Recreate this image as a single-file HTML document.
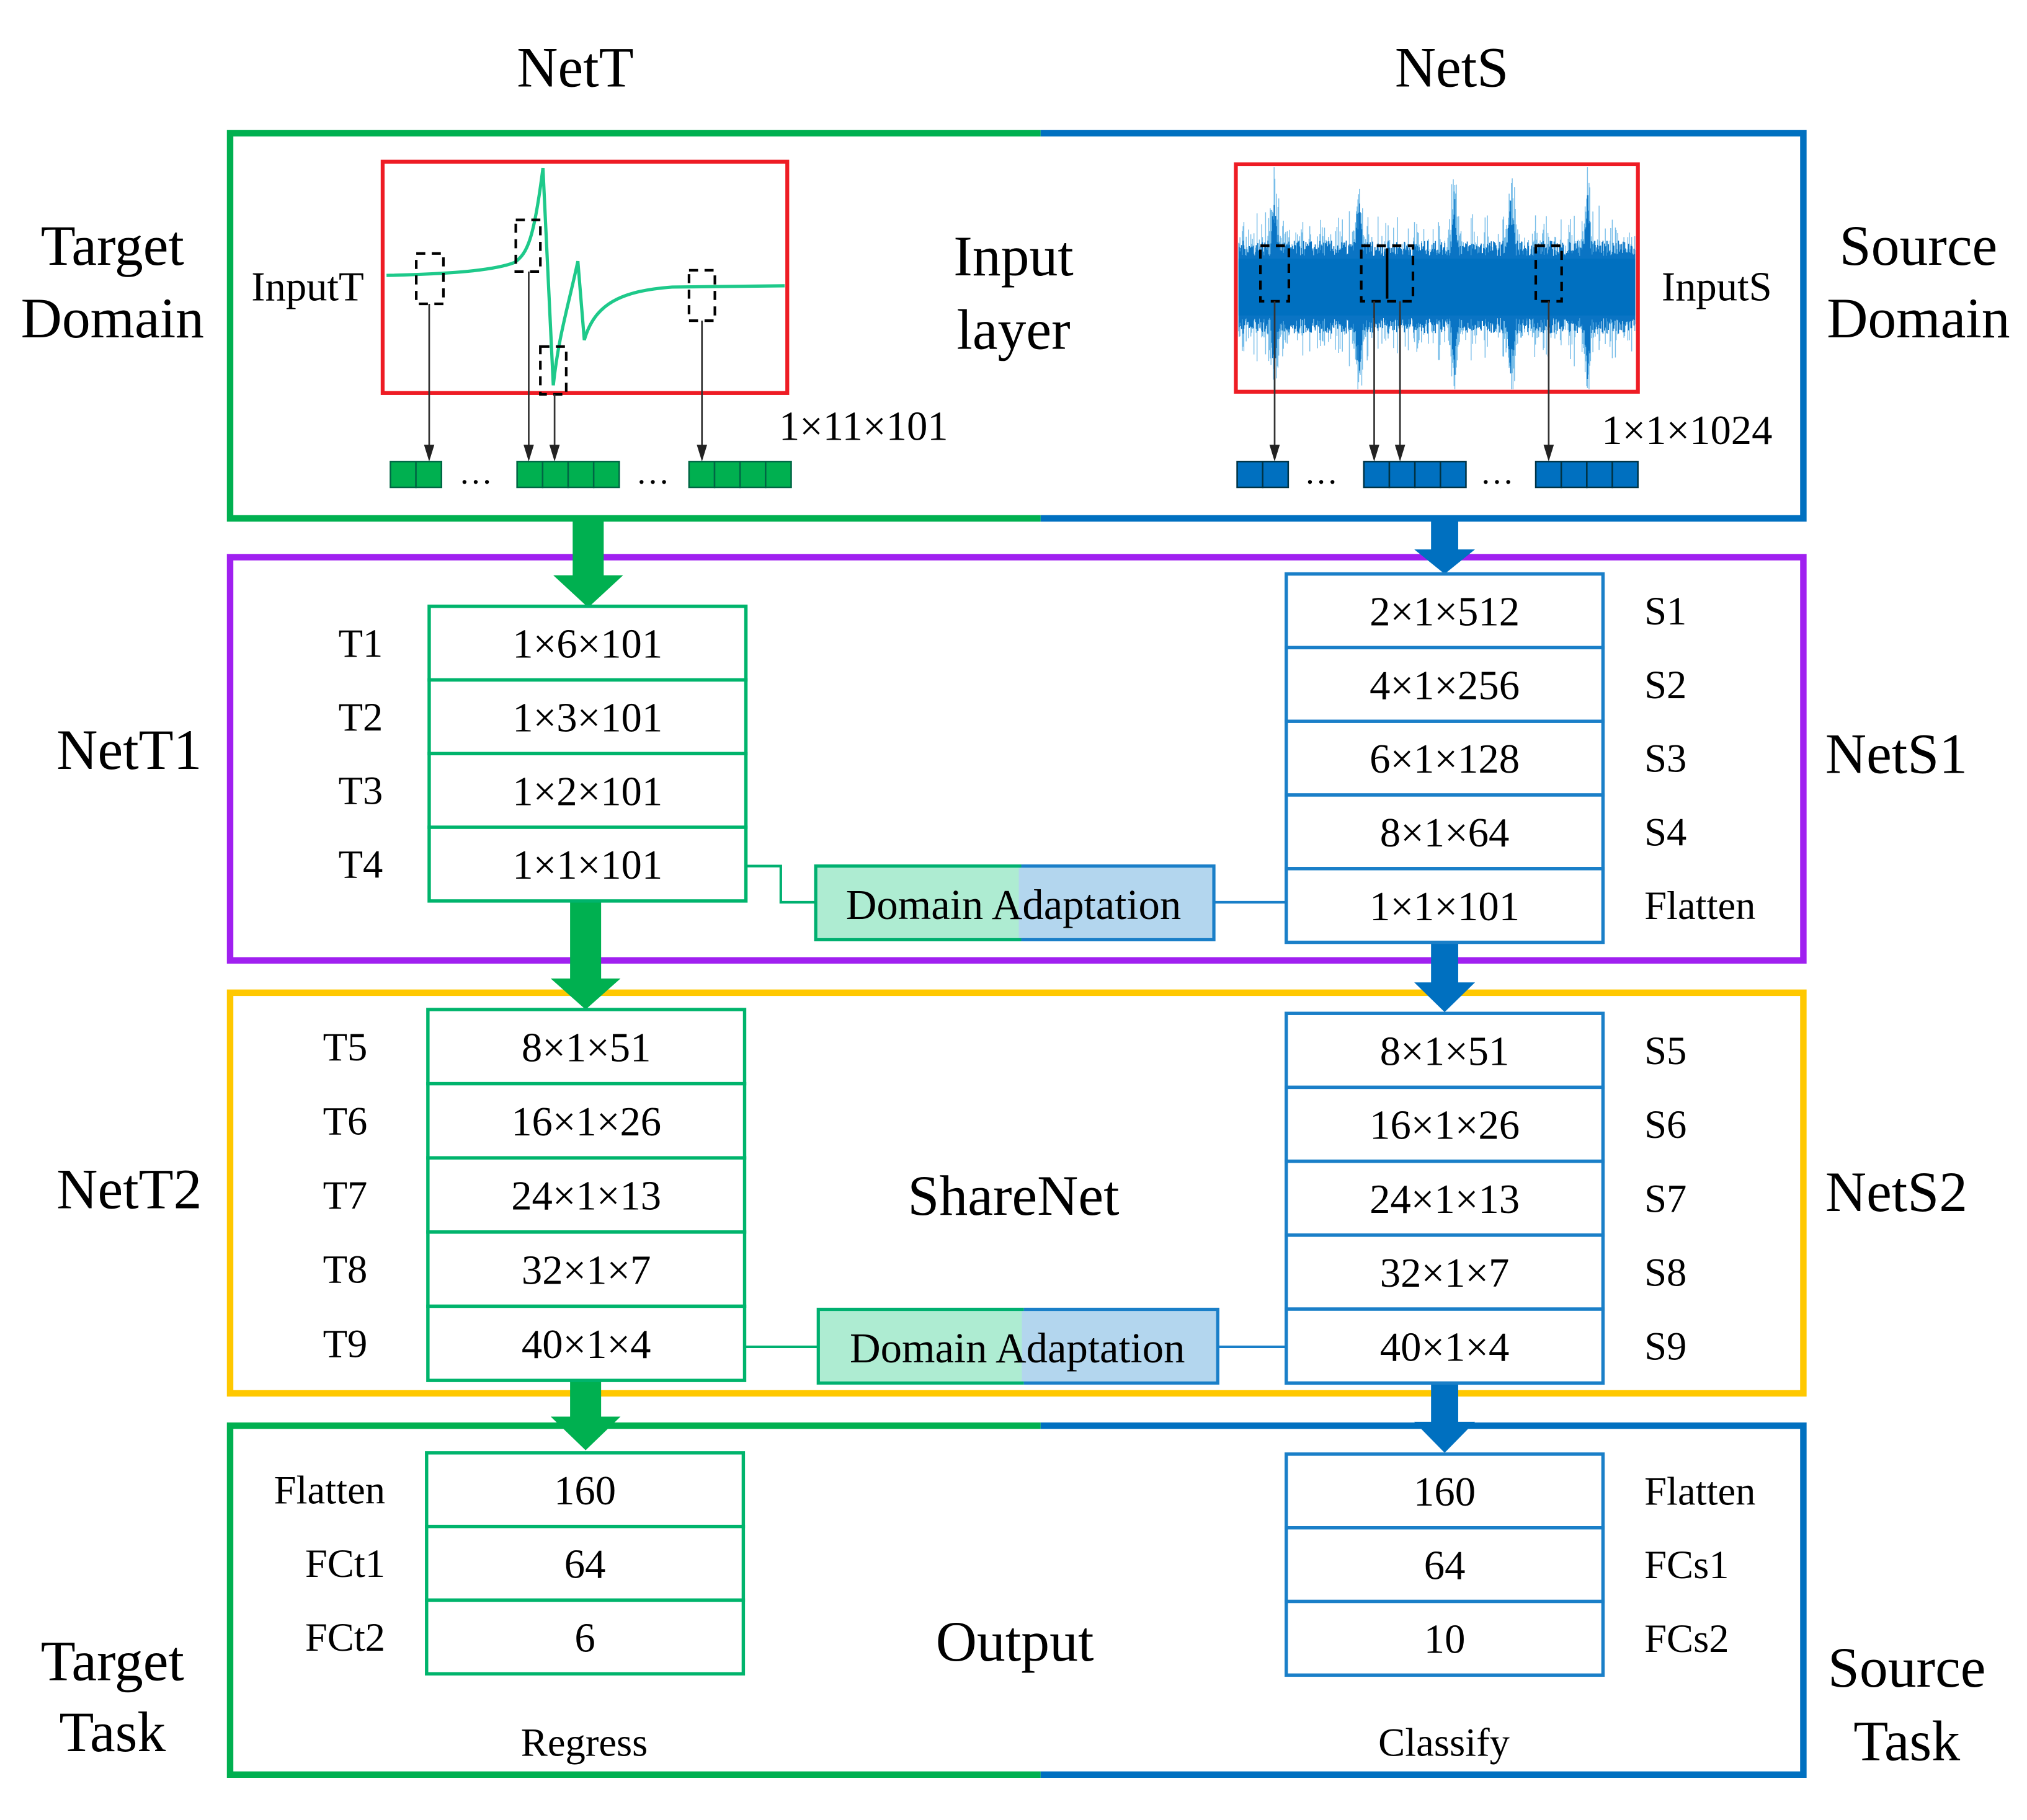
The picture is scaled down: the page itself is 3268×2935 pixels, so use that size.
<!DOCTYPE html>
<html><head><meta charset="utf-8"><style>
html,body{margin:0;padding:0;background:#fff;width:3268px;height:2935px;overflow:hidden}
svg{display:block}
text{font-family:"Liberation Serif",serif;fill:#000}
</style></head><body>
<svg id="s" width="3268" height="2935" viewBox="0 0 1568 1408" xmlns="http://www.w3.org/2000/svg">
<defs>
<linearGradient id="da" x1="0" x2="1" y1="0" y2="0">
<stop offset="0" stop-color="#aeecd2"/><stop offset="0.51" stop-color="#aeecd2"/><stop offset="0.51" stop-color="#b3d6ee"/><stop offset="1" stop-color="#b3d6ee"/></linearGradient>
<clipPath id="cs"><rect x="958" y="129" width="307" height="172"/></clipPath>
</defs>
<g font-size="44" text-anchor="middle" dominant-baseline="central">
<text x="445" y="52">NetT</text><text x="1123" y="52">NetS</text>
<text x="87" y="190">Target</text><text x="87" y="246">Domain</text>
<text x="784" y="198">Input</text><text x="784" y="255">layer</text>
<text x="1484" y="190">Source</text><text x="1484" y="246">Domain</text>
<text x="100" y="580">NetT1</text><text x="1467" y="583">NetS1</text>
<text x="100" y="920">NetT2</text><text x="1467" y="922">NetS2</text>
<text x="784" y="925">ShareNet</text>
<text x="785" y="1270">Output</text>
<text x="87" y="1285">Target</text><text x="87" y="1340">Task</text>
<text x="1475" y="1290">Source</text><text x="1475" y="1347">Task</text>
</g>
<g fill="none" stroke-width="5">
<path d="M805 103 H178 V401 H805" stroke="#00b050"/>
<path d="M805 103 H1395 V401 H805" stroke="#0070c0"/>
<rect x="178" y="431" width="1217" height="312" stroke="#a020f0"/>
<rect x="178" y="768" width="1217" height="310" stroke="#ffc800"/>
<path d="M805 1103 H178 V1373 H805" stroke="#00b050"/>
<path d="M805 1103 H1395 V1373 H805" stroke="#0070c0"/>
</g>
<rect x="296" y="125" width="313" height="179" fill="none" stroke="#ee1c24" stroke-width="3"/>
<path d="M299 213 C340 212 380 210 398 203 C408 196 413 185 420 130 L428 298 C432 260 440 235 447 202 L452 263 C460 235 480 225 520 222 L607 221" fill="none" stroke="#1ec98a" stroke-width="2.5"/>
<g id="blue" clip-path="url(#cs)"></g>
<rect x="956" y="127" width="311" height="176" fill="none" stroke="#ee1c24" stroke-width="3"/>
<g font-size="32" text-anchor="middle" dominant-baseline="central">
<text x="238" y="222">InputT</text><text x="1328" y="222">InputS</text>
<text x="668" y="330">1×11×101</text><text x="1305" y="333">1×1×1024</text>
</g>
<g fill="none" stroke="#000" stroke-width="2" stroke-dasharray="7,5">
<rect x="322" y="196" width="21" height="39"/><rect x="399" y="170" width="19" height="40"/>
<rect x="418" y="268" width="20" height="37"/><rect x="533" y="209" width="20" height="39"/>
<rect x="975" y="190" width="22" height="43"/><rect x="1053" y="190" width="40" height="43"/>
<rect x="1188" y="190" width="20" height="43"/>
</g>
<line x1="1073" y1="192" x2="1073" y2="231" stroke="#000" stroke-width="2"/>
<g stroke="#333" stroke-width="1.3">
<line x1="332" y1="235" x2="332" y2="348"/><line x1="409" y1="210" x2="409" y2="348"/>
<line x1="429" y1="305" x2="429" y2="348"/><line x1="543" y1="248" x2="543" y2="348"/>
<line x1="986" y1="233" x2="986" y2="348"/><line x1="1063" y1="233" x2="1063" y2="348"/>
<line x1="1083" y1="233" x2="1083" y2="348"/><line x1="1198" y1="233" x2="1198" y2="348"/>
</g>
<g fill="#222">
<path d="M328 344 L336 344 L332 357Z"/><path d="M405 344 L413 344 L409 357Z"/><path d="M425 344 L433 344 L429 357Z"/><path d="M539 344 L547 344 L543 357Z"/>
<path d="M982 344 L990 344 L986 357Z"/><path d="M1059 344 L1067 344 L1063 357Z"/><path d="M1079 344 L1087 344 L1083 357Z"/><path d="M1194 344 L1202 344 L1198 357Z"/>
</g>
<g id="cells"></g>
<g font-size="26" text-anchor="middle"><text x="368" y="374">…</text><text x="505" y="374">…</text><text x="1022" y="374">…</text><text x="1158" y="374">…</text></g>
<g fill="#00b050">
<rect x="443" y="399" width="24" height="48"/><path d="M428 445 H482 L455 470Z"/>
<rect x="441" y="697" width="24" height="62"/><path d="M426 757 H480 L453 781Z"/>
<rect x="441" y="1068" width="24" height="30"/><path d="M426 1096 H480 L453 1122Z"/>
</g>
<g fill="#0070c0">
<rect x="1107" y="399" width="21" height="28"/><path d="M1094 425 H1141 L1117.5 444Z"/>
<rect x="1107" y="728" width="21" height="34"/><path d="M1094 760 H1141 L1117.5 783Z"/>
<rect x="1107" y="1070" width="21" height="32"/><path d="M1094 1100 H1141 L1117.5 1124Z"/>
</g>
<g id="stacks"></g>
<rect x="631" y="670" width="308" height="57" fill="url(#da)"/>
<path d="M790 670 H631 V727 H790" fill="none" stroke="#00b070" stroke-width="2.5"/>
<path d="M790 670 H939 V727 H790" fill="none" stroke="#1a7fc8" stroke-width="2.5"/>
<rect x="633" y="1013" width="309" height="57" fill="url(#da)"/>
<path d="M792 1013 H633 V1070 H792" fill="none" stroke="#00b070" stroke-width="2.5"/>
<path d="M792 1013 H942 V1070 H792" fill="none" stroke="#1a7fc8" stroke-width="2.5"/>
<path d="M577 670 H604 V698 H631" fill="none" stroke="#00b070" stroke-width="2"/>
<line x1="939" y1="698" x2="995" y2="698" stroke="#1a7fc8" stroke-width="2"/>
<line x1="576" y1="1042" x2="633" y2="1042" stroke="#00b070" stroke-width="2"/>
<line x1="942" y1="1042" x2="995" y2="1042" stroke="#1a7fc8" stroke-width="2"/>
<g font-size="33" text-anchor="middle" dominant-baseline="central">
<text x="784" y="700">Domain Adaptation</text><text x="787" y="1043">Domain Adaptation</text>
<text x="452" y="1348" font-size="31">Regress</text><text x="1117" y="1348" font-size="31">Classify</text>
</g>
</svg>
<script>
var NS="http://www.w3.org/2000/svg";
function el(p,t,a,txt){var e=document.createElementNS(NS,t);for(var k in a)e.setAttribute(k,a[k]);if(txt!=null)e.textContent=txt;document.getElementById(p).appendChild(e);return e;}
function cells(x,n,fill,stroke){for(var i=0;i<n;i++)el("cells","rect",{x:x+i*19.75,y:357,width:19.75,height:20,fill:fill,stroke:stroke,"stroke-width":1.2});}
cells(302,2,"#00b050","#064");cells(400,4,"#00b050","#064");cells(533,4,"#00b050","#064");
cells(957,2,"#0070c0","#034");cells(1055,4,"#0070c0","#034");cells(1188,4,"#0070c0","#034");
var seed=7;function r(){seed=(seed*16807)%2147483647;return seed/2147483647;}
var spikes=[986,1051,1125,1169,1228];
// light outer envelope
for(var x=958;x<1266;x+=0.6){
 var a=22+r()*r()*40; var sp=0;
 for(var j=0;j<spikes.length;j++){var d=Math.abs(x-spikes[j]);if(d<10)sp=Math.max(sp,(1-d/10)*(60+40*r()));}
 a=Math.max(a,sp);
 el("blue","line",{x1:x,y1:222-a*(0.8+0.3*r()),x2:x,y2:222+a*(0.8+0.3*r()),stroke:"#58aee3","stroke-width":0.7,"stroke-opacity":0.8});
}
// dense core
for(var x=958;x<1266;x+=0.6){
 var a=24+r()*12; var sp=0;
 for(var j=0;j<spikes.length;j++){var d=Math.abs(x-spikes[j]);if(d<6)sp=Math.max(sp,(1-d/6)*(45+30*r()));}
 a=Math.max(a,sp);
 el("blue","line",{x1:x,y1:222-a,x2:x,y2:222+a,stroke:"#0a74c4","stroke-width":0.8});
}
el("blue","rect",{x:958,y:200,width:307,height:44,fill:"#0070c0"});
function stack(x,y0,h,w,vals,col,labels,lx,anchor){
 for(var i=0;i<vals.length;i++){var y=y0+i*h;
  el("stacks","rect",{x:x,y:y,width:w,height:h,fill:"#fff",stroke:col,"stroke-width":2.6});
  el("stacks","text",{x:x+w/2,y:y+h/2+1,"font-size":32,"text-anchor":"middle","dominant-baseline":"central"},vals[i]);
  if(labels){el("stacks","text",{x:lx,y:y+h/2,"font-size":31,"text-anchor":anchor||"middle","dominant-baseline":"central"},labels[i]);}
 }}
var G="#00b46c",B="#1a7fc8";
stack(332,469,57,245,["1×6×101","1×3×101","1×2×101","1×1×101"],G,["T1","T2","T3","T4"],279);
stack(995,444,57,245,["2×1×512","4×1×256","6×1×128","8×1×64","1×1×101"],B,["S1","S2","S3","S4","Flatten"],1272,"start");
stack(331,781,57.4,245,["8×1×51","16×1×26","24×1×13","32×1×7","40×1×4"],G,["T5","T6","T7","T8","T9"],267);
stack(995,784,57.2,245,["8×1×51","16×1×26","24×1×13","32×1×7","40×1×4"],B,["S5","S6","S7","S8","S9"],1272,"start");
stack(330,1124,57,245,["160","64","6"],G,["Flatten","FCt1","FCt2"],298,"end");
stack(995,1125,57,245,["160","64","10"],B,["Flatten","FCs1","FCs2"],1272,"start");
</script>
</body></html>
